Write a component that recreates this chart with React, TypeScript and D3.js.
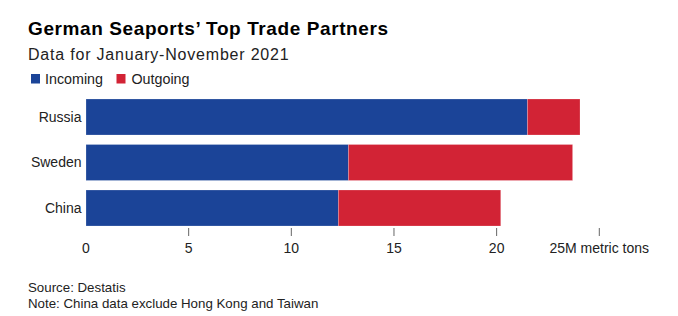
import React from "react";
import * as d3 from "d3";

const categories = ["Russia", "Sweden", "China"];
const incoming = [21.5, 12.78, 12.29];
const outgoing = [2.56, 10.92, 7.91];
const tickValues = [0, 5, 10, 15, 20, 25];
const seriesNames = ["Incoming", "Outgoing"];
const colors = ["#1b4498", "#d22335"];

const W = 678;
const H = 316;
const FONT = "'Liberation Sans', Arial, Helvetica, sans-serif";

export default function App() {
  const x = d3.scaleLinear().domain([0, 25]).range([86, 599.3]);
  const y = d3
    .scaleBand<string>()
    .domain(categories)
    .range([99, 226])
    .paddingInner(0.209)
    .paddingOuter(0);

  const stacked = categories.map((c, i) => {
    const a = incoming[i];
    const b = outgoing[i];
    return [
      { key: seriesNames[0], x0: 0, x1: a, color: colors[0] },
      { key: seriesNames[1], x0: a, x1: a + b, color: colors[1] },
    ];
  });

  return (
    <svg
      width={W}
      height={H}
      style={{ position: "absolute", left: 0, top: 0, background: "#fff" }}
      fontFamily={FONT}
    >
      <rect x={0} y={0} width={W} height={H} fill="#fff" />
      <text x={28} y={35} fontSize={19} letterSpacing={0.6} fontWeight="bold" fill="#000">
        German Seaports’ Top Trade Partners
      </text>
      <text x={28} y={59.5} fontSize={16} letterSpacing={0.8} fill="#222">
        Data for January-November 2021
      </text>
      {/* legend */}
      <rect x={31} y={74} width={9} height={9.5} fill={colors[0]} />
      <text x={45} y={84} fontSize={14.3} fill="#222">
        {seriesNames[0]}
      </text>
      <rect x={116.5} y={74} width={9} height={9.5} fill={colors[1]} />
      <text x={131.5} y={84} fontSize={14.3} fill="#222">
        {seriesNames[1]}
      </text>

      {/* bars */}
      {categories.map((c, i) => (
        <g key={c}>
          {stacked[i].map((s) => (
            <rect
              key={s.key}
              x={x(s.x0)}
              y={y(c)!}
              width={x(s.x1) - x(s.x0)}
              height={y.bandwidth()}
              fill={s.color}
              stroke="#ffffff"
              strokeOpacity={0.35}
              strokeWidth={0.6}
            />
          ))}
          <text
            x={81.5}
            y={y(c)! + y.bandwidth() / 2}
            dy="0.35em"
            textAnchor="end"
            fontSize={14}
            fill="#222"
          >
            {c}
          </text>
        </g>
      ))}

      {/* axis */}
      {tickValues.map((t) => (
        <g key={t}>
          {t !== 0 && (
            <line
              x1={x(t)}
              x2={x(t)}
              y1={228}
              y2={236}
              stroke="#666"
              strokeWidth={1}
            />
          )}
          <text
            x={x(t)}
            y={253}
            textAnchor="middle"
            fontSize={14}
            fill="#222"
          >
            {t === 25 ? "25M metric tons" : String(t)}
          </text>
        </g>
      ))}

      {/* footer */}
      <text x={28} y={292} fontSize={13.3} fill="#222">
        Source: Destatis
      </text>
      <text x={28} y={308} fontSize={13.3} fill="#222">
        Note: China data exclude Hong Kong and Taiwan
      </text>
    </svg>
  );
}
